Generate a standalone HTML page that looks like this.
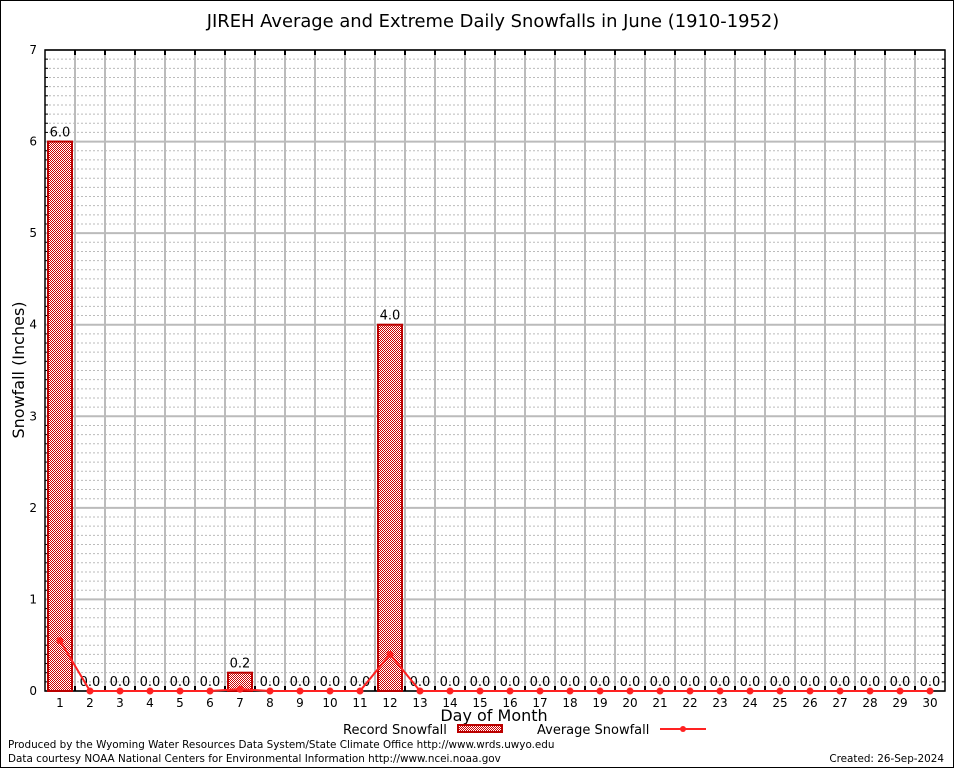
<!DOCTYPE html>
<html><head><meta charset="utf-8"><style>
body{margin:0;background:#fff}
svg text{font-family:"DejaVu Sans","Liberation Sans",sans-serif}
</style></head><body>
<svg id="c" width="954" height="768" xmlns="http://www.w3.org/2000/svg">
<defs><pattern id="hatch" width="2" height="2" patternUnits="userSpaceOnUse"><rect width="2" height="2" fill="#fff"/><rect width="1" height="1" fill="#c00"/><rect x="1" y="1" width="1" height="1" fill="#c00"/></pattern></defs>
<rect x="0.5" y="0.5" width="953" height="767" fill="#fff" stroke="#000"/>
<text x="493" y="27" font-size="17.9" text-anchor="middle">JIREH Average and Extreme Daily Snowfalls in June (1910-1952)</text>
<g id="grid"></g><g id="marks"></g>
<text transform="translate(24,370) rotate(-90)" font-size="16" text-anchor="middle">Snowfall (Inches)</text>
<text x="494" y="721" font-size="16" text-anchor="middle">Day of Month</text>
<g><text x="343" y="734" font-size="13">Record Snowfall</text><rect x="458" y="725" width="44" height="7" fill="url(#hatch)" stroke="#b00" stroke-width="2"/></g>
<g><text x="537" y="734" font-size="13">Average Snowfall</text><line x1="660" y1="729" x2="706" y2="729" stroke="#f22" stroke-width="2"/><circle cx="683" cy="729" r="3" fill="#f22"/></g>
<text x="8" y="748" font-size="10.4">Produced by the Wyoming Water Resources Data System/State Climate Office http://www.wrds.uwyo.edu</text>
<text x="8" y="762" font-size="10.4">Data courtesy NOAA National Centers for Environmental Information http://www.ncei.noaa.gov</text>
<text x="944" y="762" font-size="10.4" text-anchor="end">Created: 26-Sep-2024</text>
</svg>
<script>
const days=[1,2,3,4,5,6,7,8,9,10,11,12,13,14,15,16,17,18,19,20,21,22,23,24,25,26,27,28,29,30];
const recordSnow=[6.0,0,0,0,0,0,0.2,0,0,0,0,4.0,0,0,0,0,0,0,0,0,0,0,0,0,0,0,0,0,0,0];
const avgSnow=[0.55,0,0,0,0,0,0.02,0,0,0,0,0.4,0,0,0,0,0,0,0,0,0,0,0,0,0,0,0,0,0,0];
const yTicks=[0,1,2,3,4,5,6,7];
const L=45,R=945,T=50,B=691,yMax=7;
const sx=d=>L+(d-0.5)*(R-L)/days.length;
const sy=v=>B-v*(B-T)/yMax;
const NS='http://www.w3.org/2000/svg';
function mk(p,t,a){const e=document.createElementNS(NS,t);for(const k in a)e.setAttribute(k,a[k]);p.appendChild(e);return e;}
const g=document.getElementById('grid'),m=document.getElementById('marks');
for(let v=0;v<=yMax*10;v++){const y=sy(v/10);
 if(v%10){const l=mk(g,'line',{x1:L,x2:R,y1:y,y2:y,stroke:'#bbb','stroke-dasharray':'2,2'});
  mk(g,'line',{x1:L,x2:L+3,y1:y,y2:y,stroke:'#000'});mk(g,'line',{x1:R-3,x2:R,y1:y,y2:y,stroke:'#000'});}}
yTicks.forEach(t=>{const y=sy(t);
 const l=mk(g,'line',{x1:L,x2:R,y1:y,y2:y,stroke:'#bbb','stroke-width':2});
 const tx=mk(g,'text',{x:L-8,y:y+4,'font-size':12,'text-anchor':'end','font-family':'Liberation Serif,serif'});tx.textContent=t;
 });
for(let i=1;i<days.length;i++){const x=L+i*(R-L)/days.length;
 const l=mk(g,'line',{x1:x,x2:x,y1:T,y2:B,stroke:'#bbb','stroke-width':2});
 mk(g,'line',{x1:x,x2:x,y1:T,y2:T+5,stroke:'#000','stroke-width':2});mk(g,'line',{x1:x,x2:x,y1:B,y2:B-5,stroke:'#000','stroke-width':2});}
mk(g,'rect',{x:L,y:T,width:R-L,height:B-T,fill:'none',stroke:'#000','stroke-width':1.5});
const w=(R-L)/days.length;
days.forEach((d,i)=>{const x=sx(d),v=recordSnow[i];
 if(v>0){const r=mk(m,'rect',{x:x-w/2+3,y:sy(v),width:w-6,height:B-sy(v),fill:'url(#hatch)',stroke:'#b00','stroke-width':2});
  }
 const t=mk(m,'text',{x:x,y:sy(v)-5,'font-size':13,'text-anchor':'middle'});t.textContent=v.toFixed(1);
 
 const xl=mk(m,'text',{x:x,y:B+16,'font-size':12,'text-anchor':'middle','font-family':'Liberation Serif,serif'});xl.textContent=d;
 });
const pl=mk(m,'polyline',{points:days.map((d,i)=>sx(d)+','+sy(avgSnow[i])).join(' '),fill:'none',stroke:'#f22','stroke-width':2});

days.forEach((d,i)=>{const c=mk(m,'circle',{cx:sx(d),cy:sy(avgSnow[i]),r:3.5,fill:'#f22'});
 });
</script>
</body></html>
